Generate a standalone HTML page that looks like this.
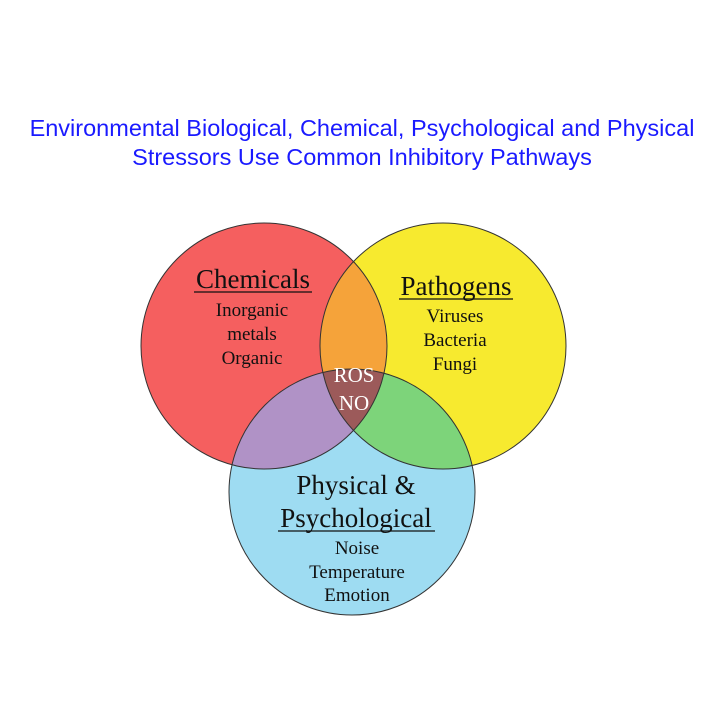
<!DOCTYPE html>
<html><head><style>
body{margin:0;background:#fff;width:720px;height:720px;overflow:hidden}
</style></head><body>
<svg width="720" height="720" viewBox="0 0 720 720" xmlns="http://www.w3.org/2000/svg">
<defs>
<clipPath id="cR"><circle cx="264" cy="346" r="123"/></clipPath>
<clipPath id="cY"><circle cx="443" cy="346" r="123"/></clipPath>
<clipPath id="cB"><circle cx="352" cy="492" r="123"/></clipPath>
</defs>
<text x="362" y="136" text-anchor="middle" font-family="Liberation Sans, sans-serif" font-size="23.5" fill="#1a1aff">Environmental Biological, Chemical, Psychological and Physical</text>
<text x="362" y="165" text-anchor="middle" font-family="Liberation Sans, sans-serif" font-size="23.5" fill="#1a1aff">Stressors Use Common Inhibitory Pathways</text>
<circle cx="264" cy="346" r="123" fill="#f55f5f"/>
<circle cx="443" cy="346" r="123" fill="#f7ea2f"/>
<circle cx="352" cy="492" r="123" fill="#9edcf2"/>
<g clip-path="url(#cR)"><circle cx="443" cy="346" r="123" fill="#f5a33a"/><circle cx="352" cy="492" r="123" fill="#b092c6"/></g>
<g clip-path="url(#cY)"><circle cx="352" cy="492" r="123" fill="#7dd47a"/></g>
<g clip-path="url(#cR)"><g clip-path="url(#cY)"><circle cx="352" cy="492" r="123" fill="#9c5a5a"/></g></g>
<g fill="none" stroke="#333" stroke-width="1">
<circle cx="264" cy="346" r="123"/><circle cx="443" cy="346" r="123"/><circle cx="352" cy="492" r="123"/>
</g>
<g font-family="Liberation Serif, serif" text-anchor="middle" fill="#111">
<text x="253" y="288" font-size="27">Chemicals</text>
<line x1="194" y1="292" x2="312" y2="292" stroke="#111" stroke-width="1.2"/>
<text x="252" y="316" font-size="19">Inorganic</text>
<text x="252" y="340" font-size="19">metals</text>
<text x="252" y="364" font-size="19">Organic</text>
<text x="456" y="295" font-size="27">Pathogens</text>
<line x1="399" y1="299" x2="513" y2="299" stroke="#111" stroke-width="1.2"/>
<text x="455" y="322" font-size="19">Viruses</text>
<text x="455" y="346" font-size="19">Bacteria</text>
<text x="455" y="370" font-size="19">Fungi</text>
<text x="356" y="494" font-size="27">Physical &amp;</text>
<text x="356" y="527" font-size="27">Psychological</text>
<line x1="278" y1="531" x2="435" y2="531" stroke="#111" stroke-width="1.2"/>
<text x="357" y="554" font-size="19">Noise</text>
<text x="357" y="578" font-size="19">Temperature</text>
<text x="357" y="601" font-size="19">Emotion</text>
<text x="354" y="382" font-size="21" fill="#fff">ROS</text>
<text x="354" y="410" font-size="21" fill="#fff">NO</text>
</g>
</svg>
</body></html>
